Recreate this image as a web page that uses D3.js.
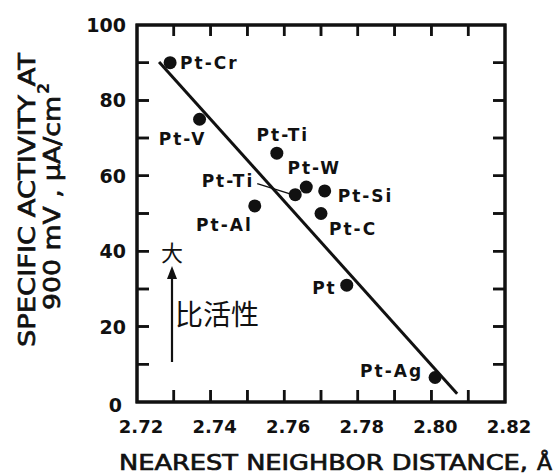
<!DOCTYPE html>
<html>
<head>
<meta charset="utf-8">
<script src="https://cdn.jsdelivr.net/npm/d3@7"></script>
<style>
  body { margin: 0; background: #fff; }
  #wrap { position: relative; width: 553px; height: 475px; }
  #wrap svg { position: absolute; left: 0; top: 0; display: block; }
  text { font-family: "DejaVu Sans", "Liberation Sans", sans-serif; font-weight: bold; fill: #111; }
</style>
</head>
<body>
<div id="wrap">
  <svg id="chart" width="553" height="475"></svg>
  <svg id="frame" width="553" height="475"></svg>
</div>
<script>
// alloy catalysts: nearest neighbor distance (A) vs specific activity (uA/cm2)
const alloys   = ['Pt-Cr', 'Pt-V', 'Pt-Ti', 'Pt-Ti', 'Pt-W', 'Pt-Si', 'Pt-C', 'Pt-Al', 'Pt', 'Pt-Ag'];
const distance = [2.729, 2.737, 2.758, 2.763, 2.766, 2.771, 2.770, 2.752, 2.777, 2.801];
const activity = [90, 75, 66, 55, 57, 56, 50, 52, 31, 6.5];

// fitted line end points
const fitX = [2.726, 2.807];
const fitY = [90.2, 2.2];

const xTicks = [2.72, 2.74, 2.76, 2.78, 2.80, 2.82];
const yTicks = [0, 20, 40, 60, 80, 100];

// where each label sits relative to its dot
const labelPlace = [
  { dx: 10,  dy: 0,   anchor: 'start' },
  { dx: -17, dy: 20,  anchor: 'middle' },
  { dx: 6,   dy: -18, anchor: 'middle' },
  { dx: -41, dy: -14, anchor: 'end', leader: true },
  { dx: 8,   dy: -19, anchor: 'middle' },
  { dx: 13,  dy: 5,   anchor: 'start' },
  { dx: 8,   dy: 15,  anchor: 'start' },
  { dx: -2,  dy: 19,  anchor: 'end' },
  { dx: -10, dy: 3,   anchor: 'end' },
  { dx: -12, dy: -6,  anchor: 'end' }
];

const svg = d3.select('#chart');
const frameSvg = d3.select('#frame');

const x = d3.scaleLinear().domain([2.72, 2.82]).range([137, 505]);
const y = d3.scaleLinear().domain([0, 100]).range([402, 25]);

const tickLen = 12;

// ticks every 0.01 / every 10, pointing inward from all four sides
const minorX = d3.range(1, 10).map(i => 2.72 + i * 0.01);
const minorY = d3.range(1, 10).map(i => i * 10);

function drawFrame(target) {
  const tickPath = d3.path();
  minorX.forEach(d => {
    tickPath.moveTo(x(d), y(0)); tickPath.lineTo(x(d), y(0) - tickLen);
    tickPath.moveTo(x(d), y(100)); tickPath.lineTo(x(d), y(100) + tickLen - 1);
  });
  minorY.forEach(d => {
    tickPath.moveTo(x(2.72), y(d)); tickPath.lineTo(x(2.72) + tickLen, y(d));
    tickPath.moveTo(x(2.82), y(d)); tickPath.lineTo(x(2.82) - tickLen, y(d));
  });
  target.append('path')
    .attr('d', tickPath.toString())
    .attr('fill', 'none')
    .attr('stroke', '#111')
    .attr('stroke-width', 2.5);

  target.append('rect')
    .attr('x', x(2.72))
    .attr('y', y(100))
    .attr('width', x(2.82) - x(2.72))
    .attr('height', y(0) - y(100))
    .attr('fill', 'none')
    .attr('stroke', '#111')
    .attr('stroke-width', 3);
}

drawFrame(svg);

// tick labels
svg.append('g').selectAll('text')
  .data(xTicks)
  .join('text')
  .attr('x', d => x(d) + 4)
  .attr('y', 433)
  .attr('text-anchor', 'middle')
  .style('font-size', '18px')
  .text(d => d.toFixed(2));

svg.append('g').selectAll('text')
  .data(yTicks)
  .join('text')
  .attr('x', d => d == 0 ? 122 : 126)
  .attr('y', d => y(d) + (d == 0 ? 10 : 7))
  .attr('text-anchor', 'end')
  .style('font-size', '19px')
  .text(d => d);

// axis titles
svg.append('text')
  .attr('x', 119)
  .attr('y', 470)
  .attr('textLength', 409)
  .attr('lengthAdjust', 'spacingAndGlyphs')
  .style('font-size', '22px')
  .style('font-weight', 'normal')
  .style('stroke', '#111')
  .style('stroke-width', 0.7)
  .text('NEAREST NEIGHBOR DISTANCE,');
svg.append('text')
  .attr('x', 537)
  .attr('y', 470)
  .style('font-size', '22px')
  .style('font-weight', 'normal')
  .style('stroke', '#111')
  .style('stroke-width', 0.7)
  .text('Å');

svg.append('text')
  .attr('transform', 'translate(35,347) rotate(-90)')
  .attr('textLength', 294)
  .attr('lengthAdjust', 'spacingAndGlyphs')
  .style('font-size', '23px')
  .style('font-weight', 'normal')
  .style('stroke', '#111')
  .style('stroke-width', 0.7)
  .text('SPECIFIC ACTIVITY AT');
svg.append('text')
  .attr('transform', 'translate(60,310) rotate(-90)')
  .attr('textLength', 214)
  .attr('lengthAdjust', 'spacingAndGlyphs')
  .style('font-size', '23px')
  .style('font-weight', 'normal')
  .style('stroke', '#111')
  .style('stroke-width', 0.7)
  .text('900 mV , μA/cm');
svg.append('text')
  .attr('transform', 'translate(49,94) rotate(-90)')
  .style('font-size', '16px')
  .text('2');

// fitted line
svg.append('path')
  .datum(d3.zip(fitX, fitY))
  .attr('fill', 'none')
  .attr('stroke', '#111')
  .attr('stroke-width', 3)
  .attr('d', d3.line().x(d => x(d[0])).y(d => y(d[1])));

// dots
const pts = alloys.map((a, i) => ({ name: a, dist: distance[i], act: activity[i], place: labelPlace[i] }));

svg.append('g').selectAll('circle')
  .data(pts)
  .join('circle')
  .attr('cx', d => x(d.dist))
  .attr('cy', d => y(d.act))
  .attr('r', 6.5)
  .attr('fill', '#111');

svg.append('g').selectAll('text')
  .data(pts)
  .join('text')
  .attr('x', d => x(d.dist) + d.place.dx)
  .attr('y', d => y(d.act) + d.place.dy + 6)
  .attr('text-anchor', d => d.place.anchor)
  .style('font-size', '17px')
  .style('letter-spacing', '2px')
  .text(d => d.name);

// leader for the lower Pt-Ti label
pts.filter(d => d.place.leader).forEach(d => {
  svg.append('line')
    .attr('x1', x(d.dist) + d.place.dx + 3)
    .attr('y1', y(d.act) + d.place.dy + 3)
    .attr('x2', x(d.dist) - 6)
    .attr('y2', y(d.act) - 1)
    .attr('stroke', '#111')
    .attr('stroke-width', 1.5);
});

// chinese annotation: larger specific activity
svg.append('line')
  .attr('x1', 172).attr('y1', 362)
  .attr('x2', 172).attr('y2', 274)
  .attr('stroke', '#111')
  .attr('stroke-width', 2.2);
svg.append('path')
  .attr('d', 'M172,266 L177,279 L167,279 Z')
  .attr('fill', '#111');

svg.append('text')
  .attr('x', 172)
  .attr('y', 261)
  .attr('text-anchor', 'middle')
  .style('font-family', '"Noto Sans CJK SC", sans-serif')
  .style('font-weight', 'normal')
  .style('font-size', '22px')
  .text('大');

svg.append('text')
  .attr('x', 175)
  .attr('y', 325)
  .style('font-family', '"Noto Sans CJK SC", sans-serif')
  .style('font-weight', 'normal')
  .style('font-size', '28px')
  .text('比活性');

// frame and ticks again on a separate overlay layer
drawFrame(frameSvg);
</script>
</body>
</html>
